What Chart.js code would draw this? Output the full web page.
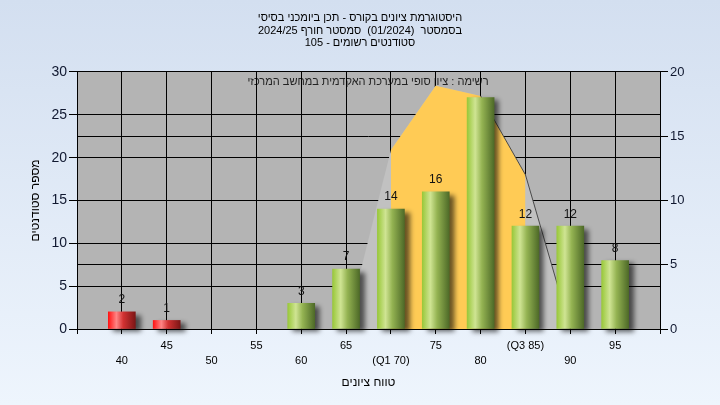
<!DOCTYPE html>
<html>
<head>
<meta charset="utf-8">
<script src="https://cdn.jsdelivr.net/npm/chart.js@4"></script>
<style>
  html, body { margin: 0; padding: 0; }
  body { width: 720px; height: 405px; background: linear-gradient(#d3dff0, #eef5fd); overflow: hidden; }
  canvas { display: block; }
</style>
</head>
<body>
<canvas id="c" width="720" height="405"></canvas>
<script>
// ---- data ----
const categories = [40, 45, 50, 55, 60, 65, 70, 75, 80, 85, 90, 95];
const counts = [2, 1, 0, 0, 3, 7, 14, 16, 27, 12, 12, 8];
const valueLabels = ['2', '1', '', '', '3', '7', '14', '16', '', '12', '12', '8'];
const barGroups = ['fail', 'fail', 'pass', 'pass', 'pass', 'pass', 'pass', 'pass', 'pass', 'pass', 'pass', 'pass'];
const xTickValues = [40, 45, 50, 55, 60, 65, 70, 75, 80, 85, 90, 95];
const xTickTexts = ['40', '45', '50', '55', '60', '65', '(Q1 70)', '75', '80', '(Q3 85)', '90', '95'];
const curveX = [65, 70, 75, 80, 85, 90];
const curveY = [0, 20.9, 28.4, 27.2, 18, 0];
const iqrX = [70, 75, 80, 85];
const iqrY = [20.9, 28.4, 27.2, 18];
const edgeX = [80, 85, 90];
const edgeY = [27.2, 18, 0];
const titleLines = [
  'היסטוגרמת ציונים בקורס - תכן ביומכני בסיסי',
  'בסמסטר  (01/2024)  סמסטר חורף 2024/25',
  'סטודנטים רשומים - 105'
];
const noteText = 'רשימה : ציון סופי במערכת האקדמית במחשב המרכזי';
const xTitle = 'טווח ציונים';
const yTitle = 'מספר סטודנטים';

const FONT = '"Liberation Sans", Arial, "DejaVu Sans", sans-serif';
const pts = (xs, ys) => xs.map((x, i) => ({ x: x, y: ys[i] }));

const gradStops = {
  pass: [[0, '#99c83a'], [0.3, '#cfe493'], [0.55, '#94b352'], [1, '#4e6a28']],
  fail: [[0, '#ff1414'], [0.3, '#ff8585'], [0.55, '#d23232'], [1, '#7c1616']]
};
const BAR_W = 27;

function barFill(ctx) {
  const chart = ctx.chart;
  if (!chart.chartArea || ctx.dataIndex === undefined) return '#9c3';
  if (!counts[ctx.dataIndex]) return 'rgba(0,0,0,0)';
  const cx = chart.scales.x.getPixelForValue(categories[ctx.dataIndex]);
  const g = chart.ctx.createLinearGradient(cx - BAR_W / 2, 0, cx + BAR_W / 2, 0);
  gradStops[barGroups[ctx.dataIndex]].forEach(s => g.addColorStop(s[0], s[1]));
  return g;
}

const bgPlugin = {
  id: 'plotBg',
  beforeDraw(chart) {
    const { ctx, chartArea: a } = chart;
    ctx.save();
    ctx.fillStyle = '#b4b4b4';
    ctx.fillRect(a.left, a.top, a.right - a.left, a.bottom - a.top);
    ctx.fillStyle = '#222';
    ctx.font = '11px ' + FONT;
    ctx.textAlign = 'center';
    ctx.textBaseline = 'middle';
    ctx.fillText(noteText, 368, 82);
    ctx.restore();
  }
};

const shadowPlugin = {
  id: 'barShadow',
  beforeDatasetDraw(chart, args) {
    if (args.meta.type !== 'bar') return;
    const ctx = chart.ctx;
    ctx.save();
    ctx.shadowColor = 'rgba(0,0,0,0.6)';
    ctx.shadowBlur = 5;
    ctx.shadowOffsetX = 5;
    ctx.shadowOffsetY = 3;
  },
  afterDatasetDraw(chart, args) {
    if (args.meta.type !== 'bar') return;
    chart.ctx.restore();
  }
};

const labelPlugin = {
  id: 'valueLabels',
  afterDatasetsDraw(chart) {
    const ctx = chart.ctx;
    chart.data.datasets.forEach((ds, di) => {
      const meta = chart.getDatasetMeta(di);
      if (meta.type !== 'bar') return;
      ctx.save();
      ctx.font = '12px ' + FONT;
      ctx.fillStyle = '#111';
      ctx.textAlign = 'center';
      ctx.textBaseline = 'bottom';
      meta.data.forEach((el, i) => {
        const t = valueLabels[i];
        if (t) ctx.fillText(t, el.x, el.y - 6);
      });
      ctx.restore();
    });
  }
};

new Chart(document.getElementById('c'), {
  type: 'bar',
  data: {
    datasets: [
      {
        type: 'bar',
        data: pts(categories, counts),
        backgroundColor: barFill,
        borderWidth: 0,
        barThickness: BAR_W,
        yAxisID: 'y',
        clip: false,
        order: 0
      },
      {
        type: 'line',
        data: pts(edgeX, edgeY),
        borderColor: '#4a4a4a',
        borderWidth: 1,
        pointRadius: 0,
        fill: false,
        tension: 0,
        yAxisID: 'y',
        order: 1
      },
      {
        type: 'line',
        data: pts(iqrX, iqrY),
        backgroundColor: '#ffcb55',
        borderWidth: 0,
        pointRadius: 0,
        fill: 'origin',
        tension: 0,
        yAxisID: 'y',
        order: 2
      },
      {
        type: 'line',
        data: pts(curveX, curveY),
        backgroundColor: '#c1c1c1',
        borderWidth: 0,
        pointRadius: 0,
        fill: 'origin',
        tension: 0,
        yAxisID: 'y',
        order: 3
      }
    ]
  },
  options: {
    responsive: false,
    animation: false,
    devicePixelRatio: 1,
    layout: { padding: 0 },
    plugins: {
      legend: { display: false },
      tooltip: { enabled: false },
      title: {
        display: true,
        text: titleLines,
        color: '#000',
        font: { family: FONT, size: 11, weight: 'normal', lineHeight: 1.136 },
        padding: { top: 11.75, bottom: 22.75 }
      }
    },
    scales: {
      x: {
        type: 'linear',
        min: 35,
        max: 100,
        offset: false,
        grid: { offset: false, color: '#000', lineWidth: 1, tickLength: 5, tickColor: '#000', drawTicks: true },
        border: { color: '#000', width: 1 },
        ticks: {
          stepSize: 5,
          autoSkip: false,
          maxRotation: 0,
          padding: 4.5,
          color: '#000',
          font: { family: FONT, size: 11, lineHeight: 1.3636 },
          callback: (v) => {
            const i = xTickValues.indexOf(v);
            if (i < 0) return '';
            return (i % 2 === 0) ? ['', xTickTexts[i]] : [xTickTexts[i], ''];
          }
        },
        title: {
          display: true,
          text: xTitle,
          color: '#000',
          font: { family: FONT, size: 12 },
          padding: { top: 0, bottom: 15 }
        },
        afterFit: (s) => { s.height = 76; }
      },
      y: {
        position: 'left',
        min: 0,
        max: 30,
        grid: { color: '#000', lineWidth: 1, tickLength: 8, tickColor: '#000' },
        border: { color: '#000', width: 1 },
        ticks: { stepSize: 5, padding: 2, color: '#101830', font: { family: FONT, size: 14 } },
        title: {
          display: true,
          text: yTitle,
          color: '#000',
          font: { family: FONT, size: 12 },
          padding: { top: 28, bottom: 0 }
        },
        afterFit: (s) => { s.width = 77; }
      },
      y2: {
        position: 'right',
        min: 0,
        max: 20,
        grid: { color: '#000', lineWidth: 1, tickLength: 8, tickColor: '#000', drawOnChartArea: true },
        border: { color: '#000', width: 1 },
        ticks: { stepSize: 5, padding: 2, color: '#101830', font: { family: FONT, size: 13 } },
        afterFit: (s) => { s.width = 60; }
      }
    }
  },
  plugins: [bgPlugin, shadowPlugin, labelPlugin]
});
</script>
</body>
</html>
